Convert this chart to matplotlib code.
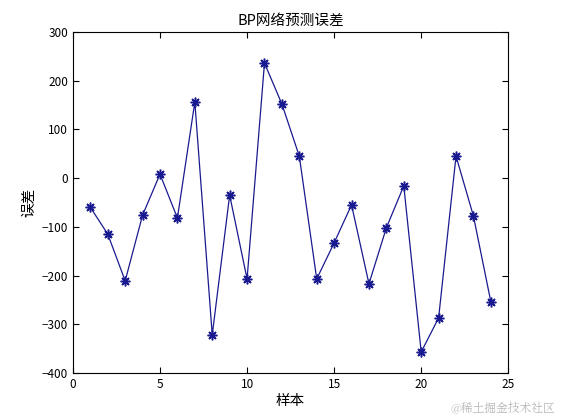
import numpy as np
import matplotlib
matplotlib.use("Agg")
import matplotlib.pyplot as plt

plt.rcParams['font.family'] = ['Noto Sans CJK SC', 'DejaVu Sans']

# sample index and prediction error
samples = list(range(1, 25))
errors = [-60, -115, -211, -76, 8, -82, 156, -322, -35, -207, 236, 152,
          45, -207, -133, -55, -217, -102, -16, -357, -287, 45, -78, -254]
xticks = [0, 5, 10, 15, 20, 25]
yticks = [-400, -300, -200, -100, 0, 100, 200, 300]

fig = plt.figure(figsize=(5.61, 4.2), dpi=100)
fig.patch.set_facecolor('white')
ax = fig.add_axes([0.13, 0.112, 0.776, 0.812])

# matlab-style asterisk marker (plus and cross overlaid)
ax.plot(samples, errors, '-', color='#1a1a90', lw=0.9,
        marker=(8, 2, 0), ms=7, mew=1.1)

ax.set_xlim(0, 25)
ax.set_ylim(-400, 300)
ax.set_xticks(xticks)
ax.set_yticks(yticks)
ax.tick_params(direction='in', top=True, right=True, labelsize=8.5, length=4, width=0.8)
for s in ax.spines.values():
    s.set_linewidth(0.8)

ax.set_title('BP网络预测误差', fontsize=10.5, pad=5)
ax.set_xlabel('样本', fontsize=10.5, labelpad=2)
ax.set_ylabel('误差', fontsize=10.5, labelpad=4)

fig.text(0.99, 0.012, '@稀土掘金技术社区', ha='right', va='bottom',
         fontsize=8.5, color='#b8b8b8', family=['Noto Serif CJK SC', 'Noto Sans CJK SC'])

fig.savefig('out.png', dpi=100)
